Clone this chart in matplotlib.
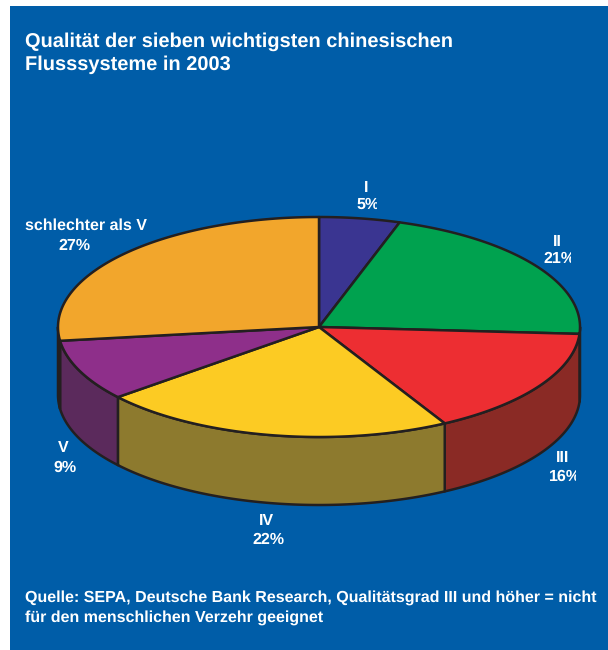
import numpy as np
import matplotlib
matplotlib.use('Agg')
import matplotlib.pyplot as plt
from matplotlib.patches import Rectangle, Polygon
from matplotlib.transforms import Bbox

plt.rcParams['font.family'] = ['Liberation Sans', 'DejaVu Sans']
plt.rcParams['text.hinting'] = 'none'

# water quality grades, clockwise from the top
grades = ['I', 'II', 'III', 'IV', 'V', 'schlechter als V']
shares = [5, 21, 16, 22, 9, 27]
title_lines = ['Qualität der sieben wichtigsten chinesischen', 'Flusssysteme in 2003']
source_lines = ['Quelle: SEPA, Deutsche Bank Research, Qualitätsgrad III und höher = nicht',
                'für den menschlichen Verzehr geeignet']

top_colors = ['#3A3591', '#00A24F', '#ED2E32', '#FCCB23', '#8E2F8A', '#F2A62C']
side_colors = ['#2A2768', '#00703A', '#8A2A25', '#8D7A2E', '#5B2A5C', '#A87420']
line_color = '#231F20'
bg_color = '#005DA8'

# pie geometry in pixels
cx, cy = 319, 327
rx, ry = 261, 110
depth = 68

# label centres in pixels, (grade line, percent line)
grade_pos = [(366, 188), (557, 242), (563, 458), (266, 521), (63, 448), (86, 226)]
pct_pos = [(368.5, 205), (559, 259), (565, 477), (268, 540), (65, 468), (74, 246)]
# the percent sign is cut off on these labels
pct_clip = [377, 571, 576, None, None, None]


def rim(a, b, n=200):
    t = np.radians(np.linspace(a, b, n))
    return np.column_stack([cx + rx * np.sin(t), cy - ry * np.cos(t)])


fig = plt.figure(figsize=(6.08, 6.5), dpi=100)
ax = fig.add_axes([0, 0, 1, 1])
ax.set_xlim(0, 608)
ax.set_ylim(650, 0)
ax.axis('off')

ax.add_patch(Rectangle((10, 6), 598, 644, facecolor=bg_color, edgecolor='none'))

edges = np.cumsum([0] + shares) / sum(shares) * 360

# side wall, only the front half can be seen
for i in range(len(shares)):
    a = max(edges[i], 90)
    b = min(edges[i + 1], 270)
    if a >= b:
        continue
    upper = rim(a, b)
    lower = upper[::-1] + [0, depth]
    ax.add_patch(Polygon(np.vstack([upper, lower]), closed=True, facecolor=side_colors[i],
                         edgecolor=line_color, linewidth=1.8, joinstyle='round'))

# top face
for i in range(len(shares)):
    pts = np.vstack([[[cx, cy]], rim(edges[i], edges[i + 1])])
    ax.add_patch(Polygon(pts, closed=True, facecolor=top_colors[i],
                         edgecolor=line_color, linewidth=1.8, joinstyle='round'))

for y, s in zip([42, 65], title_lines):
    ax.text(25, y, s, color='white', fontsize=14.4, fontweight='bold', va='center', ha='left')
for y, s in zip([598, 618], source_lines):
    ax.text(25, y, s, color='white', fontsize=11.5, fontweight='bold', va='center', ha='left')

for i in range(len(shares)):
    ax.text(grade_pos[i][0], grade_pos[i][1], grades[i], color='white', fontsize=11.5,
            fontweight='bold', va='center', ha='center')
    t = ax.text(pct_pos[i][0], pct_pos[i][1], f'{shares[i]}%', color='white', fontsize=11.5,
                fontweight='bold', va='center', ha='center')
    if pct_clip[i] is not None:
        # display coordinates have y going up
        t.set_clip_box(Bbox([[0, 0], [pct_clip[i], 650]]))
        t.set_clip_on(True)

fig.savefig('out.png', dpi=100, facecolor='white')
